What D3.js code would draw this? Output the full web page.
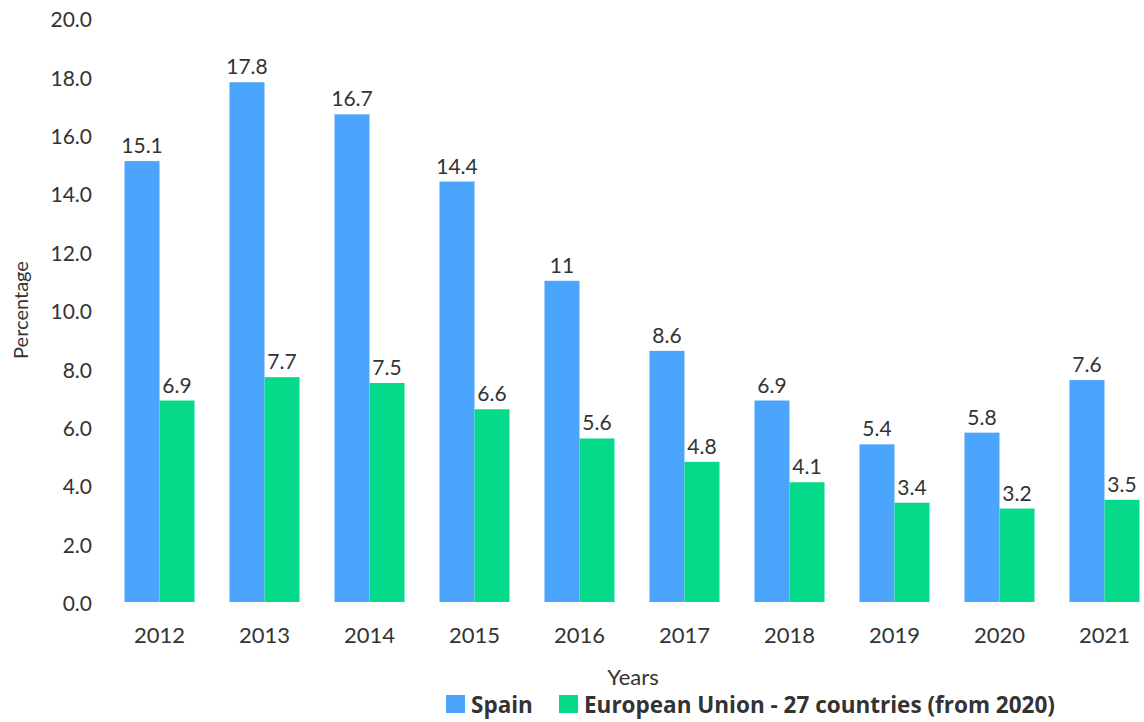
<!DOCTYPE html>
<html>
<head>
<meta charset="utf-8">
<script src="https://cdn.jsdelivr.net/npm/d3@7"></script>
<style>
  body { margin: 0; background: #fff; }
  svg text { font-family: Lato, "Open Sans", sans-serif; fill: #333; }
  svg text.legend-label { font-family: "Open Sans", sans-serif; }
</style>
</head>
<body>
<svg id="chart" width="1144" height="722"></svg>
<script>
const years = ['2012', '2013', '2014', '2015', '2016', '2017', '2018', '2019', '2020', '2021']
const spain = [15.1, 17.8, 16.7, 14.4, 11, 8.6, 6.9, 5.4, 5.8, 7.6]
const eu27 = [6.9, 7.7, 7.5, 6.6, 5.6, 4.8, 4.1, 3.4, 3.2, 3.5]
const seriesNames = ['Spain', 'European Union - 27 countries (from 2020)']
const colors = ['#4ba5fd', '#04da8a']

const svg = d3.select('#chart')

const x = d3.scaleBand().domain(years).range([107, 1157]).paddingInner(0.333).paddingOuter(0.1667)
const x1 = d3.scaleBand().domain([0, 1]).range([0, x.bandwidth()])
const y = d3.scaleLinear().domain([0, 20]).range([602, 18])

// y axis: labels only, no line
const yAxis = svg.append('g')
    .attr('transform', 'translate(92,2)')
    .call(d3.axisLeft(y).tickValues(d3.range(0, 21, 2)).tickFormat(d3.format('.1f')).tickSize(0).tickPadding(0))
yAxis.select('.domain').remove()
yAxis.selectAll('text').attr('font-size', 21).attr('fill', '#333').attr('font-family', null)

const xAxis = svg.append('g')
    .attr('transform', 'translate(0,602)')
    .call(d3.axisBottom(x).tickSize(0).tickPadding(0))
xAxis.select('.domain').remove()
xAxis.selectAll('text')
    .attr('font-size', 22).attr('fill', '#333').attr('font-family', null)
    .attr('dy', null).attr('y', 41)

const rows = years.map((yr, i) => ({ year: yr, vals: [spain[i], eu27[i]] }))

const groups = svg.append('g').selectAll('g')
    .data(rows)
    .join('g')
    .attr('transform', d => `translate(${x(d.year)},0)`)

groups.selectAll('rect')
    .data(d => d.vals)
    .join('rect')
    .attr('x', (_, j) => x1(j))
    .attr('y', d => y(d))
    .attr('width', x1.bandwidth())
    .attr('height', d => y(0) - y(d))
    .attr('fill', (_, j) => colors[j])

groups.selectAll('text.val')
    .data(d => d.vals)
    .join('text')
    .attr('class', 'val')
    .attr('x', (_, j) => x1(j) + x1.bandwidth() / 2)
    .attr('y', d => y(d) - 8)
    .attr('text-anchor', 'middle')
    .attr('font-size', 21)
    .text(d => d)

svg.append('text')
    .attr('x', 633).attr('y', 685)
    .attr('text-anchor', 'middle')
    .attr('font-size', 22)
    .text('Years')

svg.append('text')
    .attr('transform', 'translate(28,310) rotate(-90)')
    .attr('text-anchor', 'middle')
    .attr('font-size', 20)
    .text('Percentage')

// legend
const legend = svg.append('g').attr('transform', 'translate(446,695)')
const legX = [0, 113]
seriesNames.forEach((name, i) => {
    legend.append('rect')
        .attr('x', legX[i]).attr('y', 0)
        .attr('width', 19).attr('height', 18)
        .attr('fill', colors[i])
    legend.append('text')
        .attr('class', 'legend-label')
        .attr('x', legX[i] + 25).attr('y', 18)
        .attr('font-size', 22.5)
        .attr('font-weight', 'bold')
        .text(name)
})
</script>
</body>
</html>
